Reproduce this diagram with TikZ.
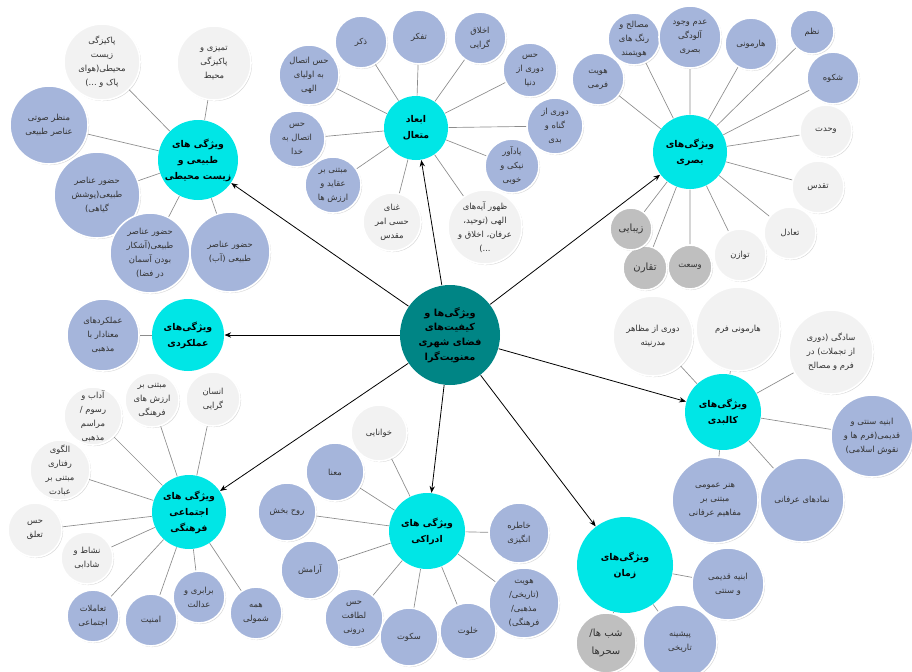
\documentclass[tikz,border=0pt]{standalone}
\usepackage{fontspec}
\usepackage{tikz}
\usetikzlibrary{shadows,arrows.meta}
\TeXXeTstate=1
\newfontfamily\arabicfont[Script=Arabic]{DejaVu Sans}
\newcommand{\fa}[1]{\beginR#1\endR}
\newcommand{\leaffont}{\arabicfont\fontsize{6.3}{10.5}\selectfont}
\newcommand{\bigleaffont}{\arabicfont\fontsize{7.5}{14}\selectfont}
\newcommand{\hubfont}{\arabicfont\bfseries\fontsize{7}{12}\selectfont}
\newcommand{\corefont}{\arabicfont\bfseries\fontsize{7.3}{11}\selectfont}
\definecolor{hubcyan}{RGB}{0,230,230}
\definecolor{coreteal}{RGB}{0,133,133}
\definecolor{leafblue}{RGB}{165,181,219}
\definecolor{leafgray}{RGB}{242,242,242}
\definecolor{leafdark}{RGB}{191,191,191}
\definecolor{linkgray}{RGB}{140,140,140}
\tikzset{every picture/.style={line width=0.75pt},
	leaf/.style={circle, draw=white, line width=1.2pt, inner sep=0pt, align=center, text=black!80, font=\leaffont, minimum size=#1*1.5pt, drop shadow={opacity=0.3, shadow xshift=0.8pt, shadow yshift=-0.8pt}},
	bleaf/.style={leaf=#1, fill=leafblue},
	gleaf/.style={leaf=#1, fill=leafgray},
	dleaf/.style={leaf=#1, fill=leafdark, font=\bigleaffont},
	hub/.style={circle, fill=hubcyan, inner sep=0pt, align=center, font=\hubfont, minimum size=#1*1.5pt},
	core/.style={circle, fill=coreteal, inner sep=0pt, align=center, font=\corefont, minimum size=#1*1.5pt},
	link/.style={draw=linkgray, line width=0.5pt},
	spoke/.style={draw=black, line width=0.6pt, -{Stealth[length=5pt, width=4pt]}}}

\begin{document}
\begin{tikzpicture}[x=0.75pt,y=0.75pt,yscale=-1,xscale=1]
		\useasboundingbox (0,0) rectangle (912,671);
		
		% Core
		\node[core=50] (core) at (450,335) {\fa{ویژگی^^^^200cها و}\\\fa{کیفیت^^^^200cهای}\\\fa{فضای شهری}\\\fa{معنویت^^^^200cگرا}};
		
		% Hubs
		\node[hub=40] (natural) at (198,160) {\fa{ویژگی های}\\\fa{طبیعی و}\\\fa{زیست محیطی}};
		\node[hub=32] (transc) at (416,128) {\fa{ابعاد}\\\fa{متعال}};
		\node[hub=37] (visual) at (690,152) {\fa{ویژگی^^^^200cهای}\\\fa{بصری}};
		\node[hub=36] (func) at (188,335) {\fa{ویژگی^^^^200cهای}\\\fa{عملکردی}};
		\node[hub=38] (physical) at (723,412) {\fa{ویژگی^^^^200cهای}\\\fa{کالبدی}};
		\node[hub=37] (social) at (189,512) {\fa{ویژگی های}\\\fa{اجتماعی}\\\fa{فرهنگی}};
		\node[hub=38] (percept) at (427,531) {\fa{ویژگی های}\\\fa{ادراکی}};
		\node[hub=48] (time) at (625,565) {\fa{ویژگی^^^^200cهای}\\\fa{زمان}};
		
		% Natural and environmental
		\node[gleaf=38] (nat1) at (102,62) {\fa{پاکیزگی}\\\fa{زیست}\\\fa{محیطی(هوای}\\\fa{پاک و ...)}};
		\node[gleaf=37] (nat2) at (214,63) {\fa{تمیزی و}\\\fa{پاکیزگی}\\\fa{محیط}};
		\node[bleaf=39] (nat3) at (49,125) {\fa{منظر صوتی}\\\fa{عناصر طبیعی}};
		\node[bleaf=43] (nat4) at (97,195) {\fa{حضور عناصر}\\\fa{طبیعی(پوشش}\\\fa{گیاهی)}};
		\node[bleaf=40] (nat5) at (150,253) {\fa{حضور عناصر}\\\fa{طبیعی(آشکار}\\\fa{بودن آسمان}\\\fa{در فضا)}};
		\node[bleaf=40] (nat6) at (230,252) {\fa{حضور عناصر}\\\fa{طبیعی (آب)}};
		
		% Transcendent
		\node[bleaf=26] (tr1) at (361,42) {\fa{ذکر}};
		\node[bleaf=27] (tr2) at (419,37) {\fa{تفکر}};
		\node[bleaf=26] (tr3) at (480,38) {\fa{اخلاق}\\\fa{گرایی}};
		\node[bleaf=27] (tr4) at (530,70) {\fa{حس}\\\fa{دوری از}\\\fa{دنیا}};
		\node[bleaf=28] (tr5) at (555,126) {\fa{دوری از}\\\fa{گناه و}\\\fa{بدی}};
		\node[bleaf=27] (tr6) at (512,166) {\fa{یادآور}\\\fa{نیکی و}\\\fa{خوبی}};
		\node[gleaf=37] (tr7) at (485,227) {\fa{ظهور آیه^^^^200cهای}\\\fa{الهی (توحید،}\\\fa{عرفان، اخلاق و}\\\fa{...)}};
		\node[gleaf=29] (tr8) at (392,222) {\fa{غنای}\\\fa{حسی امر}\\\fa{مقدس}};
		\node[bleaf=28] (tr9) at (333,185) {\fa{مبتنی بر}\\\fa{عقاید و}\\\fa{ارزش ها}};
		\node[bleaf=28] (tr10) at (297,139) {\fa{حس}\\\fa{اتصال به}\\\fa{خدا}};
		\node[bleaf=30] (tr11) at (309,75) {\fa{حس اتصال}\\\fa{به اولیای}\\\fa{الهی}};
		
		% Visual
		\node[bleaf=26] (vis1) at (598,79) {\fa{هویت}\\\fa{فرمی}};
		\node[bleaf=26] (vis2) at (634,39) {\fa{مصالح و}\\\fa{رنگ های}\\\fa{هویتمند}};
		\node[bleaf=31] (vis3) at (690,37) {\fa{عدم وجود}\\\fa{آلودگی}\\\fa{بصری}};
		\node[bleaf=26] (vis4) at (751,44) {\fa{هارمونی}};
		\node[bleaf=22] (vis5) at (812,32) {\fa{نظم}};
		\node[bleaf=26] (vis6) at (833,78) {\fa{شکوه}};
		\node[gleaf=26] (vis7) at (826,131) {\fa{وحدت}};
		\node[gleaf=26] (vis8) at (818,187) {\fa{تقدس}};
		\node[gleaf=26] (vis9) at (790,233) {\fa{تعادل}};
		\node[gleaf=26] (vis10) at (740,255) {\fa{توازن}};
		\node[dleaf=22, font=\leaffont] (vis11) at (690,267) {\fa{وسعت}};
		\node[dleaf=22] (vis12) at (645,268) {\fa{تقارن}};
		\node[dleaf=21] (vis13) at (631,229) {\fa{زیبایی}};
		
		% Functional
		\node[bleaf=36] (fn1) at (103,335) {\fa{عملکردهای}\\\fa{معنادار با}\\\fa{مذهبی}};
		
		% Physical
		\node[gleaf=40] (phy1) at (653,336) {\fa{دوری از مظاهر}\\\fa{مدرنیته}};
		\node[gleaf=42] (phy2) at (738,329) {\fa{هارمونی فرم}};
		\node[gleaf=42] (phy3) at (831,352) {\fa{سادگی (دوری}\\\fa{از تجملات) در}\\\fa{فرم و مصالح}};
		\node[bleaf=41] (phy4) at (872,436) {\fa{ابنیه سنتی و}\\\fa{قدیمی(فرم ها و}\\\fa{نقوش اسلامی)}};
		\node[bleaf=42] (phy5) at (802,500) {\fa{نمادهای عرفانی}};
		\node[bleaf=43] (phy6) at (715,500) {\fa{هنر عمومی}\\\fa{مبتنی بر}\\\fa{مفاهیم عرفانی}};
		
		% Social and cultural
		\node[gleaf=27] (soc1) at (213,399) {\fa{انسان}\\\fa{گرایی}};
		\node[gleaf=27] (soc2) at (152,400) {\fa{مبتنی بر}\\\fa{ارزش های}\\\fa{فرهنگی}};
		\node[gleaf=29] (soc3) at (93,416) {\fa{آداب و}\\\fa{رسوم /}\\\fa{مراسم}\\\fa{مذهبی}};
		\node[gleaf=30] (soc4) at (60,470) {\fa{الگوی}\\\fa{رفتاری}\\\fa{مبتنی بر}\\\fa{عبادت}};
		\node[gleaf=27] (soc5) at (35,530) {\fa{حس}\\\fa{تعلق}};
		\node[gleaf=26] (soc6) at (87,558) {\fa{نشاط و}\\\fa{شادابی}};
		\node[bleaf=26] (soc7) at (93,616) {\fa{تعاملات}\\\fa{اجتماعی}};
		\node[bleaf=26] (soc8) at (151,620) {\fa{امنیت}};
		\node[bleaf=26] (soc9) at (199,597) {\fa{برابری و}\\\fa{عدالت}};
		\node[bleaf=26] (soc10) at (256,613) {\fa{همه}\\\fa{شمولی}};
		
		% Perceptual
		\node[gleaf=28] (per1) at (379,433) {\fa{خوانایی}};
		\node[bleaf=29] (per2) at (335,472) {\fa{معنا}};
		\node[bleaf=29] (per3) at (287,512) {\fa{روح بخش}};
		\node[bleaf=29] (per4) at (310,570) {\fa{آرامش}};
		\node[bleaf=29] (per5) at (354,618) {\fa{حس}\\\fa{لطافت}\\\fa{درونی}};
		\node[bleaf=29] (per6) at (409,637) {\fa{سکوت}};
		\node[bleaf=28] (per7) at (468,631) {\fa{خلوت}};
		\node[bleaf=35] (per8) at (524,603) {\fa{هویت}\\\fa{(تاریخی/}\\\fa{مذهبی/}\\\fa{فرهنگی)}};
		\node[bleaf=30] (per9) at (519,533) {\fa{خاطره}\\\fa{انگیزی}};
		
		% Time
		\node[bleaf=36] (tim1) at (728,584) {\fa{ابنیه قدیمی}\\\fa{و سنتی}};
		\node[bleaf=37] (tim2) at (680,642) {\fa{پیشینه}\\\fa{تاریخی}};
		\node[dleaf=30] (tim3) at (606,643) {\fa{شب ها/}\\\fa{سحرها}};
		
		% Links
		\draw[link] (natural) -- (nat1) (natural) -- (nat2) (natural) -- (nat3) (natural) -- (nat4) (natural) -- (nat5) (natural) -- (nat6);
		\draw[link] (transc) -- (tr1) (transc) -- (tr2) (transc) -- (tr3) (transc) -- (tr4) (transc) -- (tr5) (transc) -- (tr6) (transc) -- (tr7) (transc) -- (tr8) (transc) -- (tr9) (transc) -- (tr10) (transc) -- (tr11);
		\draw[link] (visual) -- (vis1) (visual) -- (vis2) (visual) -- (vis3) (visual) -- (vis4) (visual) -- (vis5) (visual) -- (vis6) (visual) -- (vis7) (visual) -- (vis8) (visual) -- (vis9) (visual) -- (vis10) (visual) -- (vis11) (visual) -- (vis12) (visual) -- (vis13);
		\draw[link] (func) -- (fn1);
		\draw[link] (physical) -- (phy1) (physical) -- (phy2) (physical) -- (phy3) (physical) -- (phy4) (physical) -- (phy5) (physical) -- (phy6);
		\draw[link] (social) -- (soc1) (social) -- (soc2) (social) -- (soc3) (social) -- (soc4) (social) -- (soc5) (social) -- (soc6) (social) -- (soc7) (social) -- (soc8) (social) -- (soc9) (social) -- (soc10);
		\draw[link] (percept) -- (per1) (percept) -- (per2) (percept) -- (per3) (percept) -- (per4) (percept) -- (per5) (percept) -- (per6) (percept) -- (per7) (percept) -- (per8) (percept) -- (per9);
		\draw[link] (time) -- (tim1) (time) -- (tim2) (time) -- (tim3);
		
		% Arrows
		\draw[spoke] (core) -- (natural);
		\draw[spoke] (core) -- (transc);
		\draw[spoke] (core) -- (visual);
		\draw[spoke] (core) -- (func);
		\draw[spoke] (core) -- (physical);
		\draw[spoke] (core) -- (social);
		\draw[spoke] (core) -- (percept);
		\draw[spoke] (core) -- (time);
		
\end{tikzpicture}
\end{document}
